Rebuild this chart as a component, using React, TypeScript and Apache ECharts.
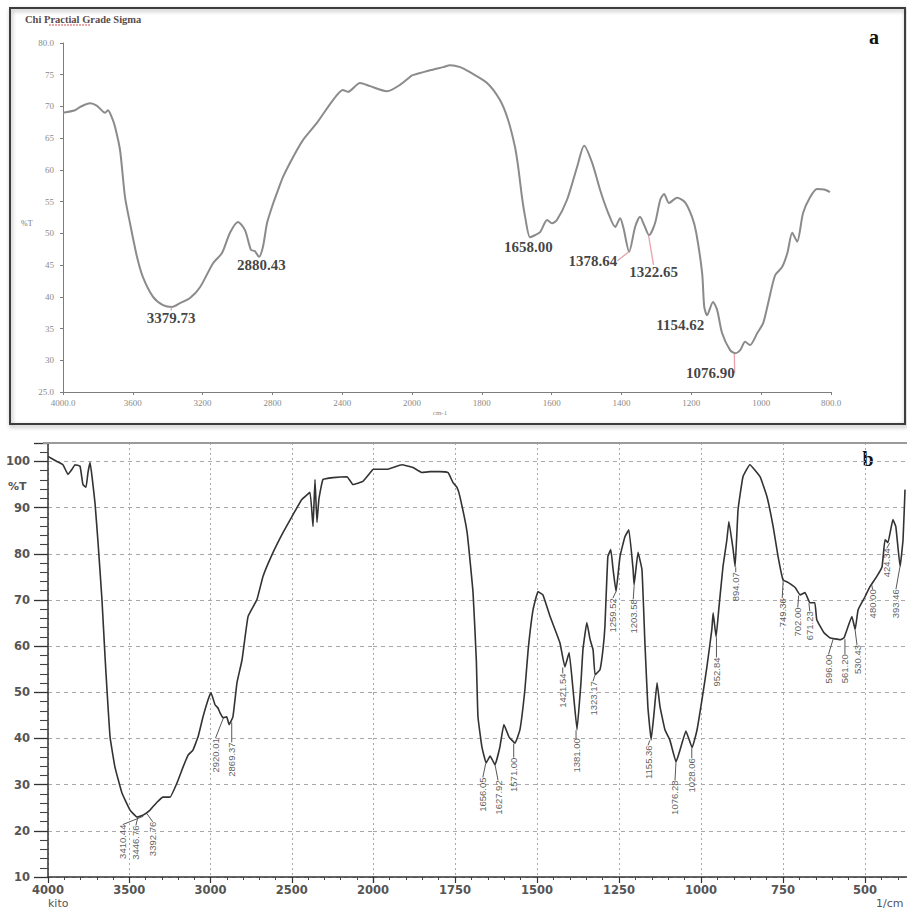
import React, { useEffect, useRef } from "react";
import * as echarts from "echarts";

// ---------- Panel a: chitosan practical grade (wavenumber cm-1, %T) ----------
const spectrumA: number[][] = [
  [4000, 69.0], [3931, 69.4], [3903, 69.9], [3845, 70.5], [3805, 70.1], [3759, 69.0], [3742, 69.4],
  [3719, 68.2], [3702, 66.8], [3673, 63.1], [3645, 55.8], [3616, 51.6], [3576, 46.3], [3542, 43.1],
  [3484, 40.0], [3427, 38.7], [3375, 38.4], [3330, 39.0], [3272, 39.8], [3215, 41.5], [3140, 45.3],
  [3089, 46.9], [3043, 50.1], [2997, 51.8], [2957, 50.5], [2923, 47.4], [2900, 47.2], [2877, 46.3],
  [2854, 47.9], [2831, 51.6], [2802, 54.2], [2768, 56.8], [2739, 58.9], [2682, 62.0], [2625, 64.7],
  [2545, 67.4], [2453, 71.0], [2396, 72.6], [2367, 72.3], [2298, 73.7], [2241, 73.2], [2143, 72.4],
  [2069, 73.4], [2000, 74.9], [1948, 75.7], [1911, 76.2], [1891, 76.5], [1862, 76.2], [1834, 75.4],
  [1785, 73.7], [1748, 71.0], [1725, 67.9], [1705, 63.6], [1696, 60.5], [1685, 55.7], [1676, 52.6],
  [1662, 49.4], [1648, 49.7], [1633, 50.2], [1613, 52.1], [1599, 51.6], [1585, 52.1], [1556, 55.3],
  [1527, 60.5], [1507, 63.8], [1484, 61.1], [1461, 56.8], [1438, 53.2], [1418, 51.0], [1404, 52.4],
  [1395, 51.0], [1378, 47.1], [1361, 51.0], [1347, 52.6], [1335, 51.3], [1321, 49.7], [1304, 51.6],
  [1289, 55.3], [1278, 56.2], [1264, 54.8], [1241, 55.6], [1218, 54.9], [1198, 52.6], [1186, 50.1],
  [1169, 43.7], [1163, 38.4], [1155, 37.1], [1138, 39.2], [1126, 37.9], [1112, 34.3], [1089, 31.6],
  [1074, 31.1], [1060, 31.6], [1046, 32.9], [1032, 32.4], [1011, 34.3], [994, 35.9], [980, 39.0],
  [960, 43.4], [940, 44.7], [925, 46.9], [911, 50.1], [897, 48.7], [880, 53.2], [860, 55.7],
  [840, 57.0], [820, 56.9], [803, 56.5],
];

const peaksA: number[][] = [
  [3379.73, 38.4], [2880.43, 46.3], [1658.0, 49.4], [1378.64, 47.1], [1322.65, 49.7],
  [1154.62, 37.1], [1076.9, 31.1],
];

// ---------- Panel b ----------
const spectrumB: number[][] = [
  [4000, 101.1], [3945, 100.0], [3908, 99.3], [3877, 97.2], [3852, 98.3], [3834, 99.3], [3803, 99.0],
  [3785, 95.0], [3766, 94.4], [3754, 97.6], [3741, 99.8], [3729, 96.7], [3711, 91.1], [3692, 82.4],
  [3668, 70.1], [3649, 57.7], [3637, 50.5], [3618, 40.3], [3588, 33.8], [3545, 28.2], [3495, 24.5],
  [3452, 23.0], [3415, 23.4], [3372, 24.5], [3329, 26.2], [3292, 27.3], [3249, 27.3], [3206, 30.4],
  [3169, 33.8], [3138, 36.4], [3108, 37.5], [3077, 40.3], [3046, 44.7], [3015, 48.4], [2997, 49.9],
  [2972, 47.3], [2954, 46.6], [2942, 45.6], [2923, 44.5], [2900, 44.7], [2886, 43.0], [2862, 44.7],
  [2837, 52.1], [2806, 57.0], [2769, 66.4], [2714, 70.1], [2677, 75.1], [2615, 80.3], [2554, 84.6],
  [2492, 88.5], [2437, 91.8], [2388, 93.3], [2369, 85.9], [2357, 96.1], [2345, 86.8], [2333, 91.8],
  [2308, 96.1], [2246, 96.5], [2160, 96.7], [2123, 95.0], [2062, 95.7], [2000, 98.3], [1957, 98.3],
  [1912, 99.3], [1878, 98.7], [1851, 97.6], [1826, 97.8], [1796, 97.8], [1771, 97.6], [1756, 95.4],
  [1744, 94.4], [1735, 92.4], [1713, 84.6], [1695, 71.6], [1685, 57.0], [1680, 44.7], [1668, 38.2],
  [1655, 34.7], [1643, 36.2], [1628, 34.3], [1613, 38.2], [1601, 43.0], [1585, 40.3], [1567, 39.0],
  [1552, 41.9], [1537, 50.5], [1527, 59.2], [1512, 67.9], [1497, 71.8], [1482, 71.1], [1460, 66.4],
  [1430, 60.7], [1415, 55.5], [1402, 58.6], [1390, 50.5], [1378, 41.9], [1366, 52.1], [1360, 59.2],
  [1348, 65.1], [1338, 61.4], [1329, 59.2], [1323, 53.8], [1308, 54.9], [1299, 59.2], [1293, 64.2],
  [1284, 79.4], [1275, 80.9], [1268, 76.6], [1259, 71.8], [1247, 79.4], [1232, 83.7], [1220, 85.2],
  [1207, 76.6], [1204, 73.3], [1192, 80.3], [1180, 76.6], [1171, 60.7], [1162, 46.9], [1152, 39.7],
  [1143, 45.6], [1134, 52.1], [1125, 46.9], [1110, 41.9], [1095, 39.7], [1076, 34.9], [1064, 37.5],
  [1046, 41.6], [1027, 38.0], [1012, 41.9], [997, 48.4], [982, 55.5], [967, 63.6], [963, 67.2],
  [954, 62.0], [945, 68.6], [933, 77.2], [921, 83.1], [915, 87.0], [902, 80.9], [896, 77.2],
  [887, 89.6], [872, 96.7], [851, 99.3], [820, 96.7], [799, 92.4], [780, 85.9], [765, 79.4],
  [750, 74.4], [735, 73.8], [713, 72.7], [698, 71.1], [683, 71.6], [668, 69.4], [653, 69.4],
  [647, 65.7], [625, 62.9], [607, 61.8], [576, 61.4], [564, 61.8], [540, 66.4], [530, 63.6],
  [521, 67.9], [500, 70.7], [485, 72.9], [464, 75.1], [448, 77.2], [439, 83.1], [430, 82.4],
  [415, 87.4], [406, 85.9], [393, 77.2], [384, 83.1], [378, 93.9],
];

const peaksB: number[][] = [
  [3446.76, 23.0], [3410.44, 23.2], [3392.76, 23.8], [2920.01, 44.5], [2869.37, 43.6],
  [1656.05, 34.7], [1627.92, 34.3], [1571.0, 39.0], [1421.54, 55.5], [1381.0, 41.9],
  [1323.17, 53.8], [1259.52, 71.8], [1203.58, 73.3], [1155.36, 39.7], [1076.28, 34.9],
  [1028.06, 38.0], [952.84, 62.0], [894.07, 77.2], [749.36, 74.4], [702.0, 71.1],
  [671.23, 69.4], [596.0, 61.8], [561.2, 61.6], [530.43, 63.6], [480.0, 73.5],
  [424.34, 82.4], [393.46, 77.2],
];

// label placement on screen [right, down] (styling, keyed by label text)
const labelShiftA: Record<string, number[]> = {
  "3379.73": [0, 1], "2880.43": [3, -2], "1658.00": [-3, 0], "1378.64": [-36, -1],
  "1322.65": [5, 27], "1154.62": [-27, 0], "1076.90": [-24, 10],
};
const pinkLinesA = ["3379.73", "1378.64", "1322.65", "1076.90"];
const labelShiftB: Record<string, number[]> = {
  "3446.76": [-2, 6], "3410.44": [-21, 6], "3392.76": [6, 6], "2920.01": [-8, 18], "2869.37": [0, 18],
  "1656.05": [-3, 12], "1627.92": [3, 13], "1571.00": [0, 12], "1421.54": [0, 4], "1381.00": [0, 6],
  "1323.17": [-2, 4], "1259.52": [-3, 4], "1203.58": [-1, 12], "1155.36": [-2, 3], "1076.28": [-1, 16],
  "1028.06": [0, 8], "952.84": [0, 18], "894.07": [0, 3], "749.36": [-1, 16], "702.00": [-1, 10],
  "671.23": [1, 6], "596.00": [-5, 14], "561.20": [0, 13], "530.43": [2, 13], "480.00": [1, 3],
  "424.34": [-3, 3], "393.46": [-4, 20],
};

const inRange = (arr: number[][], lo: number, hi: number) => arr.filter((p) => p[0] >= lo && p[0] <= hi);

const serifFont = "Liberation Serif";
const sansFont = "DejaVu Sans";

function buildOption(): any {
  const axisGrayA = "#7d7d7d";
  const axA = (grid: number, min: number, max: number, interval: number, fmt: (v: number) => string) => ({
    type: "value", gridIndex: grid, min, max, interval, inverse: true,
    axisLine: { show: true, onZero: false, lineStyle: { color: axisGrayA, width: 1 } },
    axisTick: { show: true, length: 3, lineStyle: { color: axisGrayA } },
    axisLabel: { color: "#8a8a8a", fontSize: 9, fontFamily: serifFont, margin: 6, formatter: fmt },
    splitLine: { show: false },
  });
  const axB = (grid: number, min: number, max: number, interval: number, fmt: (v: number) => string) => ({
    type: "value", gridIndex: grid, min, max, interval, inverse: true,
    axisLine: { show: true, onZero: false, lineStyle: { color: "#333", width: 1.5 } },
    axisTick: { show: true, length: 6, lineStyle: { color: "#333", width: 1.2 } },
    minorTick: { show: true, splitNumber: 5, length: 3, lineStyle: { color: "#444" } },
    axisLabel: { color: "#555", fontSize: 11.5, fontWeight: "bold", fontFamily: sansFont, margin: 7, formatter: fmt },
    splitLine: { show: true, lineStyle: { color: "#a8a8a8", type: [2, 3], width: 1 } },
  });

  const lineA = (xi: number, data: number[][]) => ({
    type: "line", xAxisIndex: xi, yAxisIndex: xi, data, showSymbol: false, symbol: "none",
    smooth: 0.25, lineStyle: { color: "#8b8b8b", width: 2 }, silent: true, z: 3,
  });
  const lineB = (xi: number, data: number[][]) => ({
    type: "line", xAxisIndex: xi, yAxisIndex: xi, data, showSymbol: false, symbol: "none",
    smooth: 0.1, lineStyle: { color: "#333333", width: 1.6 }, silent: true, z: 3,
  });

  const labelsA = (xi: number, pts: number[][]) => ({
    type: "scatter", xAxisIndex: xi, yAxisIndex: xi, silent: true, z: 6,
    symbol: "circle", symbolSize: 1, itemStyle: { color: "rgba(0,0,0,0)" },
    data: pts.map((p) => {
      const t = p[0].toFixed(2);
      const pink = pinkLinesA.indexOf(t) >= 0;
      return {
        value: p,
        labelLine: { show: pink, lineStyle: { color: "#e7a2aa", width: 1.3 } },
      };
    }),
    label: {
      show: true, position: "bottom", distance: 2,
      formatter: (q: any) => q.value[0].toFixed(2),
      color: "#111", fontSize: 15, fontWeight: "bold", fontFamily: serifFont,
    },
    labelLayout: (q: any) => {
      const s = labelShiftA[q.text] || [0, 0];
      return { dx: s[0], dy: s[1] };
    },
  });

  // rotated labels: layout shift is applied in the label's rotated frame,
  // so screen [right, down] becomes local [-down, right]
  const labelsB = (xi: number, pts: number[][]) => ({
    type: "scatter", xAxisIndex: xi, yAxisIndex: xi, silent: true, z: 6,
    symbol: "circle", symbolSize: 1, itemStyle: { color: "rgba(0,0,0,0)" },
    data: pts.map((p) => ({ value: p })),
    label: {
      show: true, position: "bottom", distance: 2, rotate: 90, align: "right", verticalAlign: "middle",
      formatter: (q: any) => q.value[0].toFixed(2),
      color: "#333", fontSize: 9.5, fontFamily: "Liberation Sans",
    },
    labelLine: { show: true, lineStyle: { color: "#444", width: 0.9 } },
    labelLayout: (q: any) => {
      const s = labelShiftB[q.text] || [0, 4];
      return { dx: -s[1], dy: s[0] };
    },
  });

  return {
    animation: false,
    backgroundColor: "#ffffff",
    grid: [
      { left: 63, top: 43, width: 349, height: 349 },
      { left: 412, top: 43, width: 419, height: 349 },
      { left: 48, top: 443, width: 325, height: 434 },
      { left: 373, top: 443, width: 574, height: 434 },
    ],
    xAxis: [
      axA(0, 2000, 4000, 400, (v) => (v === 4000 ? "4000.0" : String(v))),
      axA(1, 800, 2000, 200, (v) => (v === 2000 ? "" : v === 800 ? "800.0" : String(v))),
      axB(2, 2000, 4000, 500, (v) => String(v)),
      axB(3, 250, 2000, 250, (v) => (v === 2000 || v === 250 ? "" : String(v))),
    ],
    yAxis: [
      {
        type: "value", gridIndex: 0, min: 25, max: 80, interval: 5,
        axisLine: { show: true, onZero: false, lineStyle: { color: axisGrayA, width: 1 } },
        axisTick: { show: true, length: 3, lineStyle: { color: axisGrayA } },
        axisLabel: {
          color: "#8a8a8a", fontSize: 9, fontFamily: serifFont, margin: 9,
          formatter: (v: number) => (v === 80 ? "80.0" : v === 25 ? "25.0" : String(v)),
        },
        splitLine: { show: false },
      },
      { type: "value", gridIndex: 1, min: 25, max: 80, interval: 5, show: false },
      {
        type: "value", gridIndex: 2, min: 10, max: 104, interval: 10,
        axisLine: { show: true, onZero: false, lineStyle: { color: "#333", width: 1.5 } },
        axisTick: { show: true, length: 14, lineStyle: { color: "#333", width: 1.3 } },
        minorTick: { show: true, splitNumber: 5, length: 8, lineStyle: { color: "#444", width: 1.1 } },
        axisLabel: {
          color: "#555", fontSize: 11.5, fontWeight: "bold", fontFamily: sansFont, margin: 18,
          formatter: (v: number) => (v % 10 === 0 ? String(v) : ""),
        },
        splitLine: { show: true, lineStyle: { color: "#a8a8a8", type: [4, 4], width: 1 } },
      },
      {
        type: "value", gridIndex: 3, min: 10, max: 104, interval: 10,
        axisLine: { show: false }, axisTick: { show: false }, axisLabel: { show: false },
        splitLine: { show: true, lineStyle: { color: "#a8a8a8", type: [4, 4], width: 1 } },
      },
    ],
    series: [
      lineA(0, inRange(spectrumA, 2000, 4000)),
      lineA(1, inRange(spectrumA, 0, 2000)),
      lineB(2, inRange(spectrumB, 2000, 4000)),
      lineB(3, inRange(spectrumB, 0, 2000)),
      labelsA(0, inRange(peaksA, 2000, 4000)),
      labelsA(1, inRange(peaksA, 0, 2000)),
      labelsB(2, inRange(peaksB, 2000, 4000)),
      labelsB(3, inRange(peaksB, 0, 2000)),
    ],
    graphic: [
      {
        type: "rect", silent: true, z: 0,
        shape: { x: 10, y: 8, width: 895, height: 416 },
        style: {
          fill: "none", stroke: "#3c3c3c", lineWidth: 2,
          shadowBlur: 4, shadowColor: "rgba(0,0,0,0.35)", shadowOffsetX: 1, shadowOffsetY: 2,
        },
      },
      {
        type: "text", silent: true, x: 25, y: 19,
        style: {
          text: "Chi Practial Grade Sigma", fontSize: 10.5, fontWeight: "bold", fontFamily: serifFont,
          fill: "#5a4c4c", align: "left", verticalAlign: "middle",
        },
      },
      {
        type: "line", silent: true,
        shape: { x1: 49, y1: 25, x2: 91, y2: 25 },
        style: { stroke: "#d35050", lineWidth: 1, lineDash: [2, 1] },
      },
      {
        type: "text", silent: true, x: 21, y: 223,
        style: { text: "%T", fontSize: 8, fontFamily: serifFont, fill: "#7a7a7a", align: "left", verticalAlign: "middle" },
      },
      {
        type: "text", silent: true, x: 440, y: 413,
        style: { text: "cm-1", fontSize: 7, fontFamily: serifFont, fill: "#8a8a8a", align: "center", verticalAlign: "middle" },
      },
      {
        type: "text", silent: true, x: 874, y: 37,
        style: { text: "a", fontSize: 20, fontWeight: "bold", fontFamily: serifFont, fill: "#111", align: "center", verticalAlign: "middle" },
      },
      {
        type: "line", silent: true, z: 5,
        shape: { x1: 43, y1: 443, x2: 907, y2: 443 },
        style: { stroke: "#9a9a9a", lineWidth: 2 },
      },
      {
        type: "text", silent: true, x: 8, y: 486,
        style: { text: "%T", fontSize: 11, fontWeight: "bold", fontFamily: sansFont, fill: "#555", align: "left", verticalAlign: "middle" },
      },
      {
        type: "text", silent: true, x: 868, y: 459,
        style: { text: "b", fontSize: 20, fontWeight: "bold", fontFamily: serifFont, fill: "#111", align: "center", verticalAlign: "middle" },
      },
      {
        type: "text", silent: true, x: 48, y: 903,
        style: { text: "kito", fontSize: 11, fontFamily: sansFont, fill: "#555", align: "left", verticalAlign: "middle" },
      },
      {
        type: "text", silent: true, x: 876, y: 903,
        style: { text: "1/cm", fontSize: 11, fontFamily: sansFont, fill: "#555", align: "left", verticalAlign: "middle" },
      },
    ],
  };
}

export default function App() {
  const ref = useRef<HTMLDivElement | null>(null);
  useEffect(() => {
    if (!ref.current) return;
    const chart = echarts.init(ref.current, null, { renderer: "svg", width: 960, height: 912 });
    chart.setOption(buildOption());
    return () => chart.dispose();
  }, []);
  return (
    <div
      style={{
        position: "absolute", left: 0, top: 0, width: 907, height: 912,
        overflow: "hidden", background: "#ffffff",
      }}
    >
      <div ref={ref} style={{ width: 960, height: 912 }} />
    </div>
  );
}
